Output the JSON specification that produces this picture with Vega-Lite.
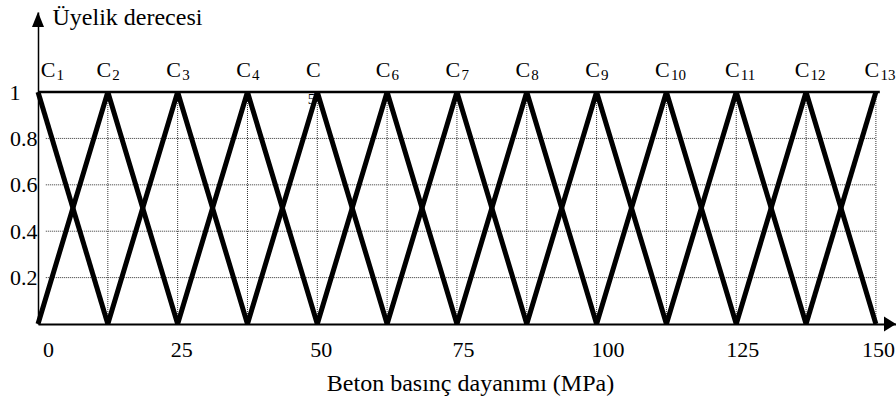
{
  "$schema": "https://vega.github.io/schema/vega-lite/v6.json",
  "width": 858,
  "height": 312,
  "autosize": "none",
  "padding": {"left": 38, "top": 12, "right": 0, "bottom": 77},
  "background": "white",
  "config": {"view": {"stroke": null}, "font": "Liberation Serif"},
  "datasets": {
    "mf": [
      {"f": "C1", "o": 1, "v": 0, "m": 1}, {"f": "C1", "o": 2, "v": 12.5, "m": 0},
      {"f": "C2", "o": 1, "v": 0, "m": 0}, {"f": "C2", "o": 2, "v": 12.5, "m": 1}, {"f": "C2", "o": 3, "v": 25, "m": 0},
      {"f": "C3", "o": 1, "v": 12.5, "m": 0}, {"f": "C3", "o": 2, "v": 25, "m": 1}, {"f": "C3", "o": 3, "v": 37.5, "m": 0},
      {"f": "C4", "o": 1, "v": 25, "m": 0}, {"f": "C4", "o": 2, "v": 37.5, "m": 1}, {"f": "C4", "o": 3, "v": 50, "m": 0},
      {"f": "C5", "o": 1, "v": 37.5, "m": 0}, {"f": "C5", "o": 2, "v": 50, "m": 1}, {"f": "C5", "o": 3, "v": 62.5, "m": 0},
      {"f": "C6", "o": 1, "v": 50, "m": 0}, {"f": "C6", "o": 2, "v": 62.5, "m": 1}, {"f": "C6", "o": 3, "v": 75, "m": 0},
      {"f": "C7", "o": 1, "v": 62.5, "m": 0}, {"f": "C7", "o": 2, "v": 75, "m": 1}, {"f": "C7", "o": 3, "v": 87.5, "m": 0},
      {"f": "C8", "o": 1, "v": 75, "m": 0}, {"f": "C8", "o": 2, "v": 87.5, "m": 1}, {"f": "C8", "o": 3, "v": 100, "m": 0},
      {"f": "C9", "o": 1, "v": 87.5, "m": 0}, {"f": "C9", "o": 2, "v": 100, "m": 1}, {"f": "C9", "o": 3, "v": 112.5, "m": 0},
      {"f": "C10", "o": 1, "v": 100, "m": 0}, {"f": "C10", "o": 2, "v": 112.5, "m": 1}, {"f": "C10", "o": 3, "v": 125, "m": 0},
      {"f": "C11", "o": 1, "v": 112.5, "m": 0}, {"f": "C11", "o": 2, "v": 125, "m": 1}, {"f": "C11", "o": 3, "v": 137.5, "m": 0},
      {"f": "C12", "o": 1, "v": 125, "m": 0}, {"f": "C12", "o": 2, "v": 137.5, "m": 1}, {"f": "C12", "o": 3, "v": 150, "m": 0},
      {"f": "C13", "o": 1, "v": 137.5, "m": 0}, {"f": "C13", "o": 2, "v": 150, "m": 1}
    ],
    "peaks": [
      {"c": 0, "sub": "1"}, {"c": 12.5, "sub": "2"}, {"c": 25, "sub": "3"}, {"c": 37.5, "sub": "4"},
      {"c": 50, "sub": "5"}, {"c": 62.5, "sub": "6"}, {"c": 75, "sub": "7"}, {"c": 87.5, "sub": "8"},
      {"c": 100, "sub": "9"}, {"c": 112.5, "sub": "10"}, {"c": 125, "sub": "11"}, {"c": 137.5, "sub": "12"},
      {"c": 150, "sub": "13"}
    ],
    "grid": [{"g": 0.2}, {"g": 0.4}, {"g": 0.6}, {"g": 0.8}]
  },
  "layer": [
    {
      "data": {"name": "peaks"},
      "transform": [{"filter": "datum.c > 0"}],
      "mark": {"type": "rule", "color": "#333", "strokeWidth": 1, "strokeDash": [1, 1]},
      "encoding": {
        "x": {
          "field": "c", "type": "quantitative",
          "scale": {"domain": [0, 153.6], "nice": false, "zero": false},
          "axis": {
            "title": "Beton basınç dayanımı (MPa)",
            "values": [0, 25, 50, 75, 100, 125, 150],
            "ticks": false, "tickSize": 0, "grid": false,
            "domainColor": "black", "domainWidth": 2,
            "labelFont": "Liberation Serif", "labelFontSize": 22, "labelColor": "black",
            "labelPadding": 25, "labelBaseline": "middle", "labelFlush": false, "labelOverlap": false,
            "labelOffset": {"condition": [
              {"test": "datum.value === 0", "value": 10},
              {"test": "datum.value === 100", "value": 11},
              {"test": "datum.value === 75", "value": 6},
              {"test": "datum.value === 125", "value": 6},
              {"test": "datum.value === 150", "value": 2}
            ], "value": 3.5},
            "titleFont": "Liberation Serif", "titleFontSize": 24, "titleFontWeight": "normal", "titleColor": "black",
            "titleX": 432, "titleY": 59, "titleBaseline": "middle"
          }
        },
        "y": {
          "datum": 0, "type": "quantitative",
          "scale": {"domain": [0, 1.345], "nice": false, "zero": false},
          "axis": {
            "title": "Üyelik derecesi",
            "values": [0.2, 0.4, 0.6, 0.8, 1],
            "format": "~g",
            "ticks": false, "tickSize": 0, "grid": false,
            "domainColor": "black", "domainWidth": 1.5,
            "labelFont": "Liberation Serif", "labelFontSize": 22, "labelColor": "black",
            "labelPadding": {"condition": {"test": "datum.value === 1", "value": 18}, "value": 1},
            "labelBaseline": "middle",
            "titleFont": "Liberation Serif", "titleFontSize": 24, "titleFontWeight": "normal", "titleColor": "black",
            "titleAngle": 0, "titleAlign": "left", "titleBaseline": "middle", "titleX": 14, "titleY": 5
          }
        },
        "y2": {"datum": 1}
      }
    },
    {
      "data": {"name": "grid"},
      "mark": {"type": "rule", "color": "#333", "strokeWidth": 1, "strokeDash": [1, 1]},
      "encoding": {
        "y": {"field": "g", "type": "quantitative"},
        "x": {"datum": 1.4, "type": "quantitative"},
        "x2": {"datum": 150}
      }
    },
    {
      "data": {"values": [{"top": 1}]},
      "mark": {"type": "rule", "color": "black", "strokeWidth": 2.5},
      "encoding": {
        "y": {"field": "top", "type": "quantitative"},
        "x": {"datum": 0, "type": "quantitative"},
        "x2": {"datum": 150.7}
      }
    },
    {
      "data": {"name": "mf"},
      "mark": {"type": "line", "color": "black", "strokeWidth": 5, "strokeJoin": "bevel"},
      "encoding": {
        "x": {"field": "v", "type": "quantitative"},
        "y": {"field": "m", "type": "quantitative"},
        "detail": {"field": "f"},
        "order": {"field": "o"}
      }
    },
    {
      "data": {"name": "peaks"},
      "mark": {"type": "text", "text": "C", "font": "Liberation Serif", "fontSize": 22, "color": "black", "align": "center", "baseline": "alphabetic", "dy": -15, "dx": {"expr": "datum.c===0?10:-4"}},
      "encoding": {
        "x": {"field": "c", "type": "quantitative"},
        "y": {"datum": 1, "type": "quantitative"}
      }
    },
    {
      "data": {"name": "peaks"},
      "mark": {"type": "text", "font": "Liberation Serif", "fontSize": 15, "color": "black", "align": "left", "baseline": "alphabetic", "dy": {"expr": "datum.sub==='5'?12:-12"}, "dx": {"expr": "datum.c===0?18.5:datum.sub==='5'?-9.5:4.5"}},
      "encoding": {
        "x": {"field": "c", "type": "quantitative"},
        "y": {"datum": 1, "type": "quantitative"},
        "text": {"field": "sub"}
      }
    },
    {
      "data": {"values": [{"a": "y"}]},
      "mark": {"type": "point", "shape": "M0,0L0.8,2L-0.8,2Z", "size": 225, "filled": true, "color": "black", "opacity": 1},
      "encoding": {
        "x": {"datum": 0, "type": "quantitative"},
        "y": {"datum": 1.345, "type": "quantitative"}
      }
    },
    {
      "data": {"values": [{"a": "x"}]},
      "mark": {"type": "point", "shape": "M0,0L-1.6,-1L-1.6,1Z", "size": 225, "filled": true, "color": "black", "opacity": 1},
      "encoding": {
        "x": {"datum": 153.6, "type": "quantitative"},
        "y": {"datum": 0, "type": "quantitative"}
      }
    }
  ]
}
